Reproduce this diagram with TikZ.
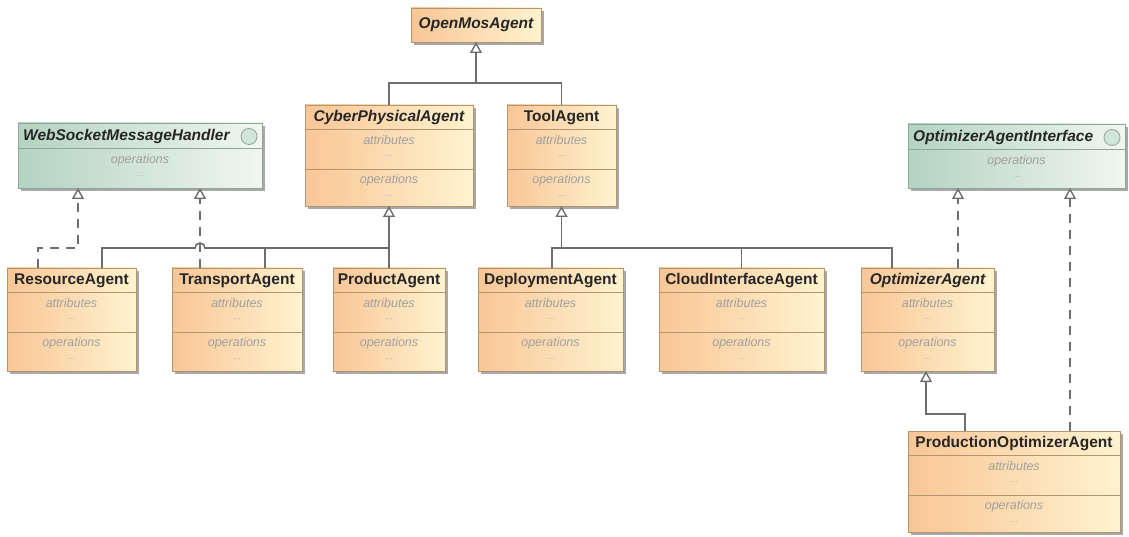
\documentclass[tikz,border=0pt]{standalone}
\usepackage{fontspec}
\setmainfont{Liberation Sans}
\usetikzlibrary{arrows.meta}

\definecolor{clsL}{HTML}{F9C696}
\definecolor{clsR}{HTML}{FFF3D0}
\definecolor{clsB}{HTML}{B09570}
\definecolor{ifcL}{HTML}{B4D3C1}
\definecolor{ifcR}{HTML}{F1F6F1}
\definecolor{ifcB}{HTML}{8CA697}
\definecolor{shd}{HTML}{A8A8A8}
\definecolor{conc}{HTML}{6E6E6E}
\definecolor{membc}{HTML}{A0A0A0}

\tikzset{
  shadowbox/.style={fill=shd},
  classbody/.style={draw=clsB, line width=0.9pt, left color=clsL, right color=clsR, inner sep=0pt, outer sep=0pt},
  ifcbody/.style={draw=ifcB, line width=0.9pt, left color=ifcL, right color=ifcR, inner sep=0pt, outer sep=0pt},
  classline/.style={draw=clsB, line width=0.9pt},
  ifcline/.style={draw=ifcB, line width=0.9pt},
  classname/.style={inner sep=0pt, font=\fontsize{15.5}{18}\selectfont\bfseries, text=black!85},
  absname/.style={classname, font=\fontsize{15.5}{18}\selectfont\bfseries\itshape},
  memb/.style={inner sep=0pt, font=\fontsize{12.5}{14}\selectfont\itshape, text=membc},
  dots/.style={inner sep=0pt, font=\fontsize{9}{10}\selectfont, text=membc!80},
  conn/.style={draw=conc, line width=1.6pt},
  gen/.style={conn, -{Triangle[width=12pt,length=11pt,fill=white,line width=1.4pt]}},
  real/.style={gen, dash pattern=on 9pt off 7pt},
}

% class box with name, attributes and operations compartments
% #1 id, #2 left, #3 top, #4 right, #5 bottom, #6 name style, #7 name
\newcommand\umlclass[7]{%
  \fill[shadowbox] ({#2+3},{#3+3}) rectangle ({#4+3},{#5+3});
  \node[classbody, minimum width={(#4-#2)*1pt}, minimum height={(#5-#3)*1pt}] (#1) at ({(#2+#4)/2},{(#3+#5)/2}) {};
  \draw[classline] ({#2},{#3+24}) -- ({#4},{#3+24});
  \draw[classline] ({#2},{#3+64}) -- ({#4},{#3+64});
  \node[#6] (#1-name) at ({(#2+#4)/2},{#3+12.5}) {#7};
  \node[memb] (#1-attr) at ({(#2+#4)/2},{#3+35}) {attributes};
  \node[dots] (#1-attrdots) at ({(#2+#4)/2},{#3+51}) {...};
  \node[memb] (#1-ops) at ({(#2+#4)/2},{#3+75}) {operations};
  \node[dots] (#1-opsdots) at ({(#2+#4)/2},{#3+91}) {...};
}

% interface box with a circle marker and an operations compartment
% #1 id, #2 left, #3 top, #4 right, #5 bottom, #6 name
\newcommand\umlinterface[6]{%
  \fill[shadowbox] ({#2+3},{#3+3}) rectangle ({#4+3},{#5+3});
  \node[ifcbody, minimum width={(#4-#2)*1pt}, minimum height={(#5-#3)*1pt}] (#1) at ({(#2+#4)/2},{(#3+#5)/2}) {};
  \draw[ifcline] ({#2},{#3+25}) -- ({#4},{#3+25});
  \node[absname, anchor=west] (#1-name) at ({#2+5},{#3+13}) {#6};
  \node[circle, draw=ifcB, fill=ifcL!60!white, line width=0.8pt, minimum size=16pt, inner sep=0pt] (#1-mark) at ({#4-13},{#3+13.5}) {};
  \node[memb] (#1-ops) at ({(#2+#4)/2},{#3+37}) {operations};
  \node[dots] (#1-opsdots) at ({(#2+#4)/2},{#3+53}) {...};
}

\begin{document}
\begin{tikzpicture}[x=1pt, y=-1pt]
\useasboundingbox (0,0) rectangle (1129,537);

% root abstract class
\fill[shadowbox] (414,11) rectangle (544,45);
\node[classbody, minimum width=130pt, minimum height=34pt] (openmos) at (476,25) {};
\node[absname] (openmos-name) at (476,25) {OpenMosAgent};

\umlclass{cyber}{305}{105}{473}{206}{absname}{CyberPhysicalAgent}
\umlclass{tool}{507}{105}{616}{206}{classname}{ToolAgent}

\umlinterface{wsh}{18}{123}{262}{188}{WebSocketMessageHandler}
\umlinterface{oai}{908}{124}{1125}{188}{OptimizerAgentInterface}

\umlclass{resource}{7}{268}{136}{371}{classname}{ResourceAgent}
\umlclass{transport}{172}{268}{302}{371}{classname}{TransportAgent}
\umlclass{product}{333}{268}{445}{371}{classname}{ProductAgent}
\umlclass{deploy}{478}{268}{623}{371}{classname}{DeploymentAgent}
\umlclass{cloud}{659}{268}{824}{371}{classname}{CloudInterfaceAgent}
\umlclass{optimizer}{861}{268}{994}{371}{absname}{OptimizerAgent}
\umlclass{prodopt}{908}{431}{1120}{532}{classname}{ProductionOptimizerAgent}

% generalization of the two top-level agents
\coordinate (j-top) at (476,83);
\draw[conn] (cyber.north) |- (j-top) -| (tool.north);
\draw[gen] (j-top) -- (openmos.south);

% generalization of the cyber-physical agents
\coordinate (j-cyber) at (389,248);
\coordinate (rs) at (102,268);
\coordinate (ts) at (265,268);
\draw[gen] (product.north) -- (cyber.south);
\draw[conn] (j-cyber) -- (205,248) arc[start angle=0, end angle=180, radius=5pt] -- (rs |- j-cyber) -- (rs);
\draw[conn] (ts) -- (ts |- j-cyber);

% realization of the web socket handler
\coordinate (rd) at (38,268);
\coordinate (wa) at (78,188);
\coordinate (td) at (200,268);
\draw[real] (rd) |- (wa |- j-cyber) -- (wa);
\draw[real] (td) -- (td |- wsh.south);

% generalization of the tool agents
\coordinate (j-tool) at (561.5,248);
\coordinate (ds) at (552,268);
\coordinate (os) at (892,268);
\draw[gen] (j-tool) -- (tool.south);
\draw[conn] (ds) -- (ds |- j-tool) -- (os |- j-tool) -- (os);
\draw[conn] (cloud.north) -- (cloud.north |- j-tool);

% optimizer interface realizations
\coordinate (od) at (958,268);
\coordinate (pd) at (1070,431);
\draw[real] (od) -- (od |- oai.south);
\draw[real] (pd) -- (pd |- oai.south);

% production optimizer specializes the optimizer
\coordinate (pg) at (965,431);
\coordinate (og) at (926,371);
\draw[gen] (pg) -- ++(0,-17) -| (og);
\end{tikzpicture}
\end{document}
